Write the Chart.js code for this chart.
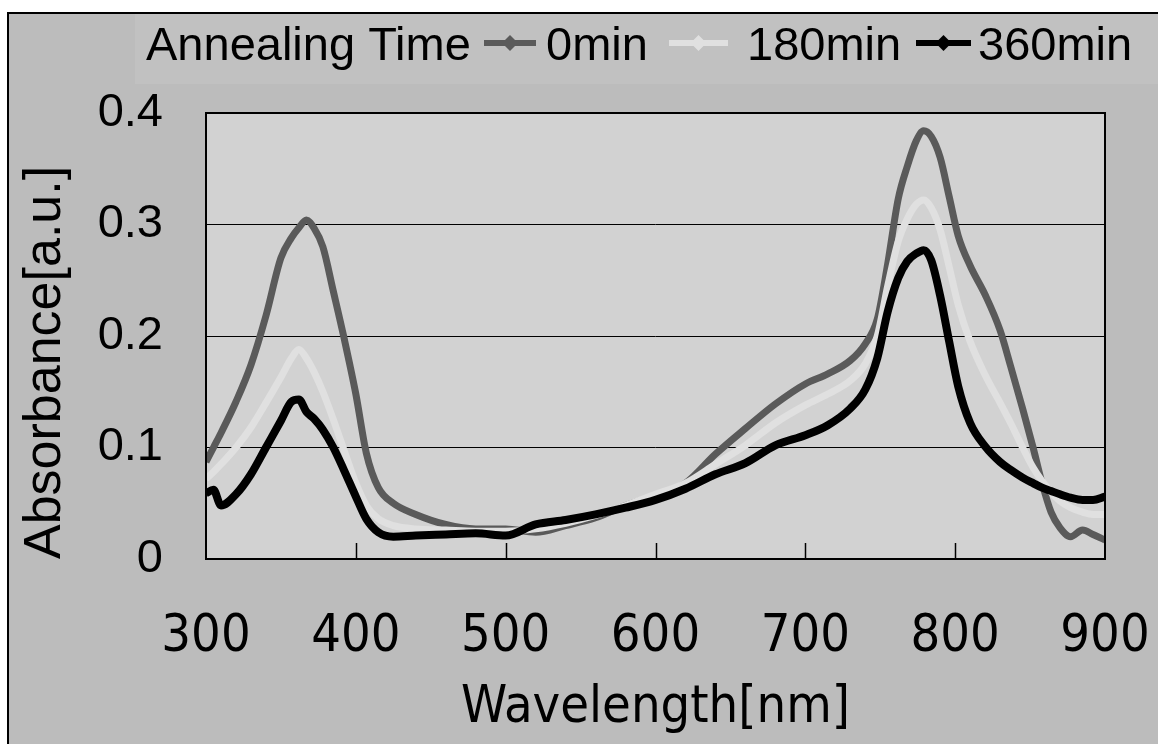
<!DOCTYPE html>
<html>
<head>
<meta charset="utf-8">
<script src="https://cdn.jsdelivr.net/npm/chart.js@4/dist/chart.umd.min.js"></script>
<style>
  html, body { margin: 0; padding: 0; background: #ffffff; }
  #wrap { width: 1158px; height: 744px; }
</style>
</head>
<body>
<div id="wrap"><canvas id="c" width="1158" height="744"></canvas></div>
<script>
// ---- data ----
const wavelengths = [300, 305, 310, 320, 330, 340, 350, 357, 362, 367, 372, 378, 385, 392, 400, 407, 415, 425, 440, 460, 480, 500, 520, 540, 560, 580, 600, 620, 640, 660, 680, 700, 715, 730, 740, 748, 755, 762, 768, 774, 779, 784, 790, 796, 802, 810, 820, 830, 837, 845, 852, 858, 864, 870, 877, 885, 892, 900];

const abs0min = [0.087, 0.100, 0.113, 0.141, 0.174, 0.218, 0.270, 0.288, 0.297, 0.304, 0.297, 0.280, 0.240, 0.199, 0.148, 0.095, 0.064, 0.050, 0.040, 0.031, 0.027, 0.027, 0.024, 0.030, 0.037, 0.048, 0.057, 0.068, 0.094, 0.117, 0.139, 0.157, 0.166, 0.178, 0.193, 0.215, 0.265, 0.323, 0.352, 0.375, 0.384, 0.379, 0.360, 0.325, 0.290, 0.263, 0.237, 0.205, 0.173, 0.135, 0.100, 0.068, 0.042, 0.028, 0.020, 0.026, 0.022, 0.017];

const abs180min = [0.072, 0.078, 0.085, 0.100, 0.118, 0.140, 0.163, 0.180, 0.188, 0.180, 0.168, 0.150, 0.125, 0.098, 0.068, 0.048, 0.036, 0.030, 0.027, 0.026, 0.025, 0.025, 0.027, 0.032, 0.039, 0.048, 0.058, 0.068, 0.085, 0.102, 0.122, 0.138, 0.148, 0.160, 0.175, 0.200, 0.245, 0.285, 0.305, 0.318, 0.322, 0.315, 0.295, 0.262, 0.228, 0.195, 0.165, 0.140, 0.122, 0.100, 0.082, 0.070, 0.060, 0.052, 0.046, 0.042, 0.040, 0.040];

const abs360min = [0.059, 0.062, 0.048, 0.058, 0.076, 0.100, 0.124, 0.141, 0.143, 0.132, 0.126, 0.116, 0.100, 0.080, 0.056, 0.036, 0.024, 0.020, 0.021, 0.022, 0.023, 0.021, 0.031, 0.035, 0.040, 0.046, 0.053, 0.063, 0.076, 0.086, 0.102, 0.111, 0.120, 0.135, 0.152, 0.180, 0.222, 0.252, 0.267, 0.274, 0.277, 0.268, 0.236, 0.195, 0.155, 0.122, 0.101, 0.087, 0.080, 0.073, 0.068, 0.064, 0.061, 0.058, 0.055, 0.053, 0.053, 0.056];

const seriesNames = ['0min', '180min', '360min'];
const legendTitle = 'Annealing Time';
const xTicks = [300, 400, 500, 600, 700, 800, 900];
const yTicks = [0, 0.1, 0.2, 0.3, 0.4];
const xTitle = 'Wavelength[nm]';
const yTitle = 'Absorbance[a.u.]';

// ---- styling ----
const colors = ['#5a5a5a', '#e0e0e0', '#000000'];
const widths = [7, 7, 8];
const SANS = "'Liberation Sans', Arial, sans-serif";
const NARROW = "'Liberation Sans Narrow', 'Arial Narrow', 'DejaVu Sans Condensed', sans-serif";

function toPoints(vals) { return wavelengths.map((w, i) => ({ x: w, y: vals[i] })); }

const backgroundPlugin = {
  id: 'bg',
  beforeDraw(chart) {
    const ctx = chart.ctx, a = chart.chartArea;
    ctx.save();
    ctx.fillStyle = '#ffffff';
    ctx.fillRect(0, 0, chart.width, chart.height);
    ctx.fillStyle = '#bcbcbc';
    ctx.fillRect(7, 12, chart.width - 7, chart.height - 12);
    ctx.fillStyle = '#c1c1c1';
    ctx.fillRect(135, 14, chart.width - 135, 70);
    ctx.strokeStyle = '#000';
    ctx.lineWidth = 2;
    ctx.beginPath();
    ctx.moveTo(8, chart.height); ctx.lineTo(8, 13); ctx.lineTo(chart.width, 13);
    ctx.stroke();
    ctx.fillStyle = '#d2d2d2';
    ctx.fillRect(a.left, a.top, a.right - a.left, a.bottom - a.top);
    ctx.restore();
  },
  beforeDatasetsDraw(chart) {
    const ctx = chart.ctx, a = chart.chartArea, xs = chart.scales.x;
    ctx.save();
    ctx.strokeStyle = '#000';
    ctx.lineWidth = 1.5;
    xTicks.forEach(t => {
      if (t === xTicks[0] || t === xTicks[xTicks.length - 1]) return;
      const px = Math.round(xs.getPixelForValue(t)) + 0.5;
      ctx.beginPath(); ctx.moveTo(px, a.bottom); ctx.lineTo(px, a.bottom - 16); ctx.stroke();
    });
    ctx.restore();
  },
  afterDatasetsDraw(chart) {
    const ctx = chart.ctx, a = chart.chartArea;
    ctx.save();
    ctx.strokeStyle = '#000';
    ctx.lineWidth = 2;
    ctx.strokeRect(a.left, a.top, a.right - a.left, a.bottom - a.top);
    ctx.restore();
  },
  afterDraw(chart) {
    const ctx = chart.ctx;
    ctx.save();
    ctx.font = '47px ' + SANS;
    ctx.fillStyle = '#000';
    ctx.textBaseline = 'alphabetic';
    const base = 60;
    const midY = base - 17;
    ctx.fillText(legendTitle, 146, base);
    const samples = [[484, 536], [669, 728], [916, 971]];
    const textX = [546, 747, 978];
    chart.data.datasets.forEach((ds, i) => {
      const [x1, x2] = samples[i];
      ctx.strokeStyle = ds.borderColor;
      ctx.lineWidth = 6;
      ctx.beginPath(); ctx.moveTo(x1, midY); ctx.lineTo(x2, midY); ctx.stroke();
      const cx = (x1 + x2) / 2, r = 8;
      ctx.fillStyle = ds.borderColor;
      ctx.beginPath();
      ctx.moveTo(cx, midY - r); ctx.lineTo(cx + r, midY); ctx.lineTo(cx, midY + r); ctx.lineTo(cx - r, midY);
      ctx.closePath(); ctx.fill();
      ctx.fillStyle = '#000';
      ctx.fillText(ds.label, textX[i], base);
    });
    ctx.restore();
  }
};

const datasets = [abs0min, abs180min, abs360min].map((vals, i) => ({
  label: seriesNames[i],
  data: toPoints(vals),
  borderColor: colors[i],
  backgroundColor: colors[i],
  borderWidth: widths[i],
  pointRadius: 0,
  cubicInterpolationMode: 'monotone',
  fill: false,
  order: 3 - i
}));

new Chart(document.getElementById('c'), {
  type: 'line',
  data: { datasets },
  options: {
    responsive: false,
    animation: false,
    layout: { padding: { top: 113, right: 53, bottom: 0, left: 0 } },
    plugins: { legend: { display: false }, tooltip: { enabled: false } },
    scales: {
      x: {
        type: 'linear',
        min: 300, max: 900,
        afterFit(s) { s.height = 185; s.paddingLeft = 0; s.paddingRight = 0; },
        afterBuildTicks(s) { s.ticks = xTicks.map(v => ({ value: v })); },
        grid: { display: false, drawTicks: false },
        border: { display: false },
        ticks: {
          padding: 47,
          color: '#000',
          font: { family: NARROW, size: 52 },
          maxRotation: 0,
          callback: v => String(v)
        },
        title: {
          display: true,
          text: xTitle,
          color: '#000',
          font: { family: NARROW, size: 52 },
          padding: { top: 0, bottom: 4 }
        }
      },
      y: {
        min: 0, max: 0.4,
        afterFit(s) { s.width = 206; s.paddingTop = 0; s.paddingBottom = 0; },
        afterBuildTicks(s) { s.ticks = yTicks.map(v => ({ value: v })); },
        grid: { color: '#000', lineWidth: 1, drawTicks: false },
        border: { display: false },
        ticks: {
          padding: 43,
          color: '#000',
          font: { family: SANS, size: 47 },
          callback: v => (v === 0 ? '0' : v.toFixed(1))
        },
        title: {
          display: true,
          text: yTitle,
          align: 'start',
          color: '#000',
          font: { family: SANS, size: 52 },
          padding: { top: 14, bottom: 0 }
        }
      }
    }
  },
  plugins: [backgroundPlugin]
});
</script>
</body>
</html>
